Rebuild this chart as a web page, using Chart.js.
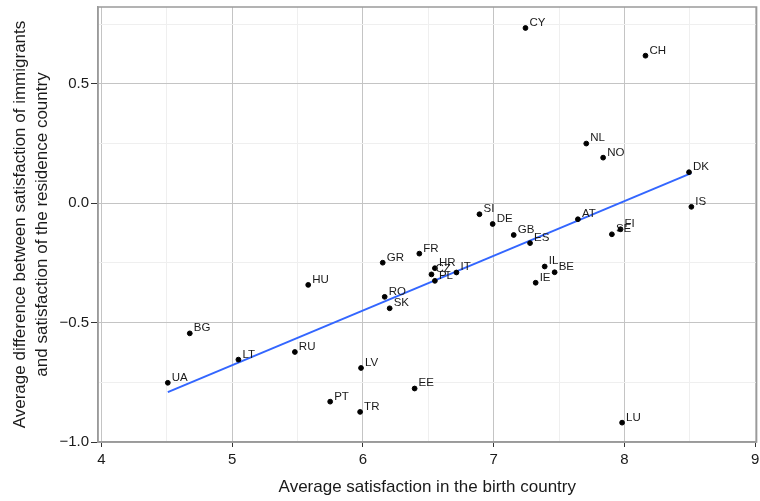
<!DOCTYPE html>
<html>
<head>
<meta charset="utf-8">
<script src="https://cdn.jsdelivr.net/npm/chart.js@4.4.1/dist/chart.umd.min.js"></script>
<style>
  body { margin: 0; background: #fff; }
  #wrap { width: 760px; height: 501px; position: relative; }
</style>
</head>
<body>
<div id="wrap"><canvas id="chart"></canvas></div>
<script>
const countries = ['UA', 'BG', 'LT', 'RU', 'HU', 'PT', 'TR', 'LV', 'GR', 'RO', 'SK', 'EE', 'FR', 'CZ', 'HR', 'PL', 'IT',
  'SI', 'DE', 'GB', 'CY', 'ES', 'IE', 'IL', 'BE', 'AT', 'NL', 'NO', 'SE', 'FI', 'LU', 'CH', 'DK', 'IS'];
const birthSat = [4.507, 4.675, 5.047, 5.479, 5.581, 5.749, 5.978, 5.985, 6.151, 6.166, 6.204, 6.395, 6.431, 6.524, 6.550, 6.550, 6.715,
  6.891, 6.992, 7.153, 7.243, 7.278, 7.321, 7.390, 7.466, 7.644, 7.708, 7.837, 7.904, 7.970, 7.982, 8.161, 8.494, 8.512];
const diffSat = [-0.752, -0.545, -0.655, -0.623, -0.342, -0.831, -0.874, -0.690, -0.249, -0.392, -0.440, -0.776, -0.211, -0.298, -0.272, -0.325, -0.290,
  -0.046, -0.087, -0.133, 0.734, -0.167, -0.333, -0.265, -0.289, -0.067, 0.250, 0.191, -0.130, -0.109, -0.919, 0.618, 0.130, -0.015];

// fitted line
const fitX = [4.507, 8.512];
const fitY = [-0.791, 0.126];

const xTicks = [4, 4.5, 5, 5.5, 6, 6.5, 7, 7.5, 8, 8.5, 9];
const yTicks = [-1.0, -0.75, -0.5, -0.25, 0.0, 0.25, 0.5, 0.75];

const FONT = '"Liberation Sans", Arial, Helvetica, sans-serif';

const isMajorX = v => Math.abs(v - Math.round(v)) < 1e-6;
const isMajorY = v => Math.abs(v * 2 - Math.round(v * 2)) < 1e-6;

const pointLabels = {
  id: 'pointLabels',
  afterDatasetsDraw(chart) {
    const ctx = chart.ctx;
    const meta = chart.getDatasetMeta(0);
    ctx.save();
    ctx.font = '11.5px ' + FONT;
    ctx.fillStyle = '#1a1a1a';
    ctx.textAlign = 'left';
    ctx.textBaseline = 'bottom';
    meta.data.forEach((pt, i) => {
      ctx.fillText(countries[i], pt.x + 4, pt.y + 0.5);
    });
    ctx.restore();
  }
};

const panelBorder = {
  id: 'panelBorder',
  afterDraw(chart) {
    const { ctx, chartArea: a } = chart;
    ctx.save();
    ctx.strokeStyle = '#9a9a9a';
    ctx.lineWidth = 1.5;
    ctx.strokeRect(a.left, a.top, a.right - a.left, a.bottom - a.top);
    ctx.restore();
  }
};

new Chart(document.getElementById('chart'), {
  type: 'scatter',
  data: {
    datasets: [
      {
        data: birthSat.map((x, i) => ({ x, y: diffSat[i] })),
        backgroundColor: '#000',
        borderColor: '#000',
        pointRadius: 2.4,
        pointHoverRadius: 2.4,
      },
      {
        type: 'line',
        data: fitX.map((x, i) => ({ x, y: fitY[i] })),
        borderColor: '#3366FF',
        borderWidth: 2,
        pointRadius: 0,
        fill: false,
      },
    ],
  },
  options: {
    responsive: true,
    maintainAspectRatio: false,
    animation: false,
    layout: { padding: { top: 7, right: 2, left: 0, bottom: 0 } },
    plugins: { legend: { display: false }, tooltip: { enabled: false } },
    scales: {
      x: {
        type: 'linear',
        min: 3.973,
        max: 9.011,
        afterBuildTicks: s => { s.ticks = xTicks.map(v => ({ value: v })); },
        afterFit: s => { s.height = 59; s.paddingLeft = 0; s.paddingRight = 0; },
        grid: {
          color: c => isMajorX(c.tick.value) ? '#c4c4c4' : '#efefef',
          lineWidth: 1,
          tickLength: 5,
          tickColor: c => isMajorX(c.tick.value) ? '#333' : 'rgba(0,0,0,0)',
        },
        border: { color: '#9a9a9a', width: 1.5 },
        ticks: {
          color: '#1a1a1a',
          font: { family: FONT, size: 15 },
          padding: 4,
          maxRotation: 0,
          autoSkip: false,
          callback: v => isMajorX(v) ? String(v) : '',
        },
        title: {
          display: true,
          text: 'Average satisfaction in the birth country',
          color: '#1a1a1a',
          font: { family: FONT, size: 17 },
          padding: { top: 4, bottom: 3 },
        },
      },
      y: {
        type: 'linear',
        min: -1.0,
        max: 0.822,
        afterBuildTicks: s => { s.ticks = yTicks.map(v => ({ value: v })); },
        afterFit: s => { s.width = 98; s.paddingTop = 0; s.paddingBottom = 0; },
        grid: {
          color: c => isMajorY(c.tick.value) ? '#c4c4c4' : '#efefef',
          lineWidth: 1,
          tickLength: 7,
          tickColor: c => isMajorY(c.tick.value) ? '#333' : 'rgba(0,0,0,0)',
        },
        border: { color: '#9a9a9a', width: 1.5 },
        ticks: {
          color: '#1a1a1a',
          font: { family: FONT, size: 15 },
          padding: 2,
          autoSkip: false,
          callback: v => isMajorY(v) ? v.toFixed(1).replace('-', '\u2212') : '',
        },
        title: {
          display: true,
          text: ['Average difference between satisfaction of immigrants', 'and satisfaction of the residence country'],
          color: '#1a1a1a',
          font: { family: FONT, size: 17, lineHeight: 1.3 },
          padding: { top: 9, bottom: 0 },
        },
      },
    },
  },
  plugins: [pointLabels, panelBorder],
});
</script>
</body>
</html>
